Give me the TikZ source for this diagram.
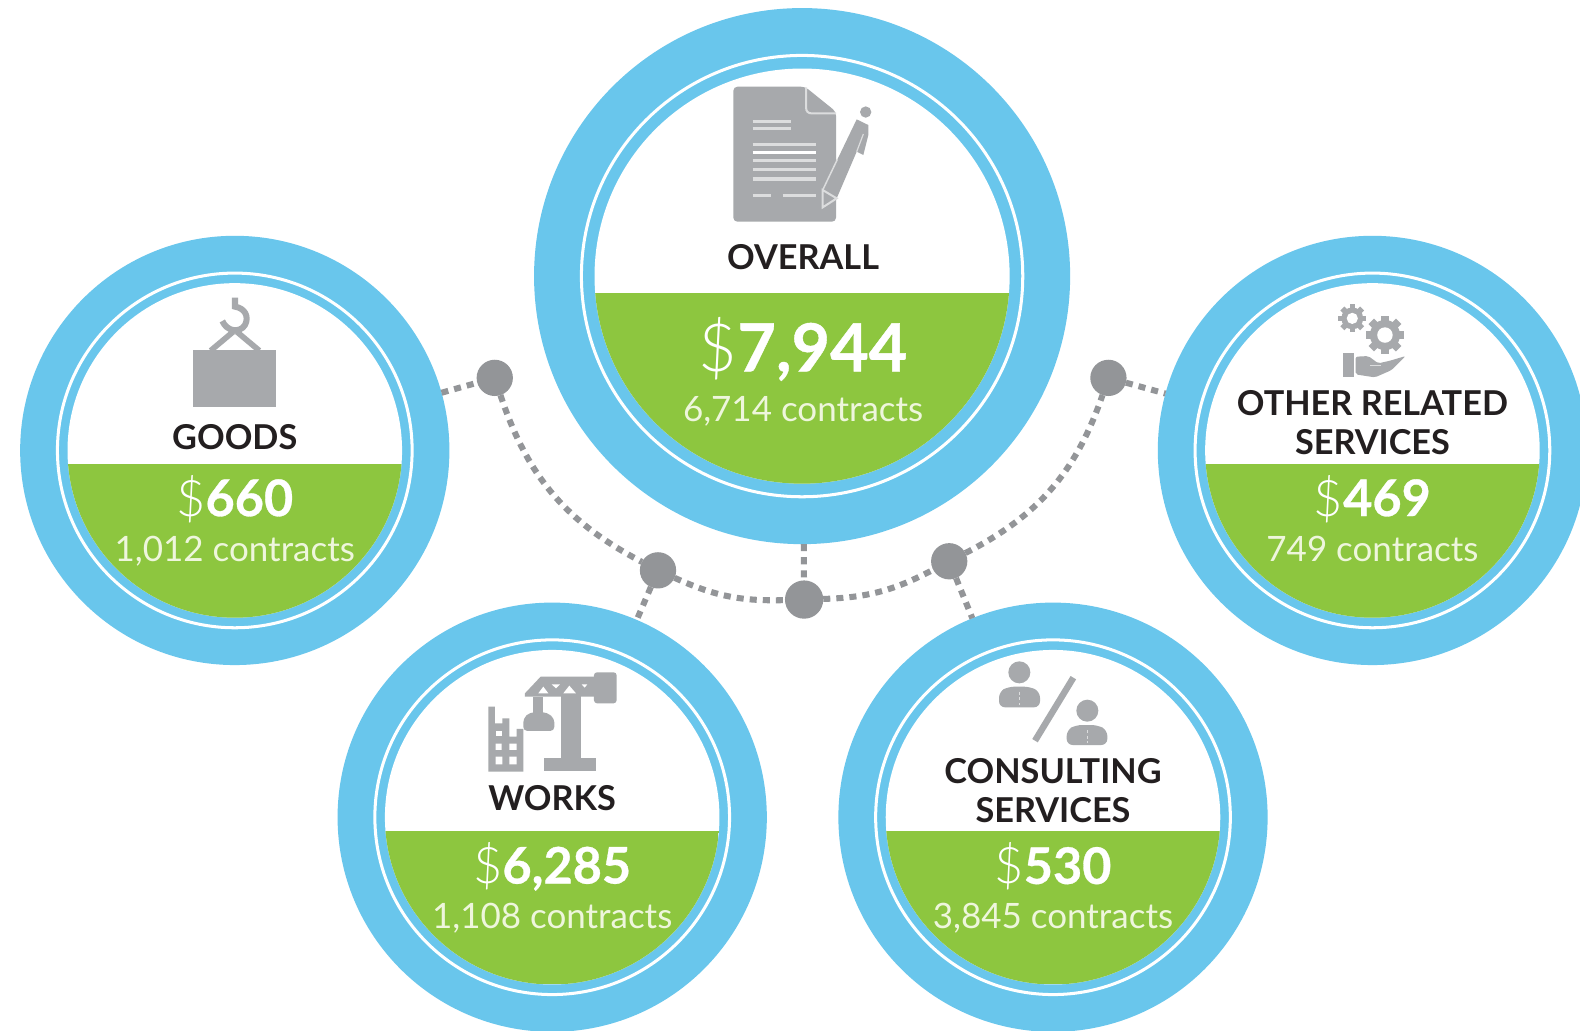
\documentclass[tikz,border=0pt]{standalone}
\usepackage{fontspec}
\setmainfont{Lato}
\newfontfamily\thinfont{Lato Light}
\definecolor{ringblue}{HTML}{69C6EC}
\definecolor{leaf}{HTML}{8DC63F}
\definecolor{dotgrey}{HTML}{939598}
\definecolor{icongrey}{HTML}{A7A9AC}
\definecolor{iconline}{HTML}{DCDDDE}
\definecolor{inkdark}{HTML}{231F20}
\definecolor{softwhite}{HTML}{EEF6DC}
\tikzset{
  outerdisc/.style={circle,fill=ringblue,inner sep=0pt,outer sep=0pt},
  junction/.style={circle,fill=dotgrey,inner sep=0pt,outer sep=0pt,minimum size=36pt},
  link/.style={draw=dotgrey,line width=6pt,dash pattern=on 7pt off 6pt},
  title/.style={text=inkdark,font=\bfseries\fontsize{34}{39}\selectfont,align=center,inner sep=0pt},
  amountbig/.style={text=white,font=\fontsize{66}{70}\selectfont,inner sep=0pt},
  amount/.style={text=white,font=\fontsize{50}{54}\selectfont,inner sep=0pt},
  count/.style={text=softwhite,font=\fontsize{34.7}{38}\selectfont,inner sep=0pt},
  iconfill/.style={fill=icongrey,draw=none},
  iconwhite/.style={fill=white,draw=none},
}
\newcommand{\ringdisc}[7]{%
  \node[outerdisc,minimum size=#4*2pt] (#1) at (#2,#3) {};
  \draw[white,line width=3pt] (#2,#3) circle (#5pt);
  \fill[white] (#2,#3) circle (#6pt);
  \begin{scope}
    \clip (#2,#3) circle (#6pt);
    \fill[leaf] (#2-#6,#7) rectangle (#2+#6,#3+#6);
  \end{scope}
}
\newcommand{\amt}[1]{{\thinfont\$}{\bfseries\addfontfeature{FakeBold=0.6}#1}}
\newcommand{\cog}[3]{%
  \foreach \a in {0,45,...,315}{
    \fill[icongrey,rotate around={\a:(#1,#2)}] (#1-#3*.2,#2) rectangle (#1+#3*.2,#2-#3);
  }
  \fill[icongrey] (#1,#2) circle (#3*.78pt);
  \fill[white] (#1,#2) circle (#3*.40pt);
}
\begin{document}
\begin{tikzpicture}[x=1pt,y=-1pt]
\useasboundingbox (0,0) rectangle (1568,1023);
\fill[white] (0,0) rectangle (1568,1023);

\ringdisc{overall}{796}{274}{266}{219}{206}{291}
\ringdisc{goods}{233}{447}{213}{176}{166}{460}
\ringdisc{other}{1362}{447}{213}{176}{166}{460}
\ringdisc{works}{548}{811}{213}{176}{166}{825}
\ringdisc{consulting}{1045}{811}{213}{176}{166}{825}

\node[junction] (d1) at (491,375) {};
\node[junction] (d2) at (653,566) {};
\node[junction,minimum size=38pt] (d3) at (798,595) {};
\node[junction] (d4) at (942,557) {};
\node[junction] (d5) at (1100,375) {};

\path[link] (goods) -- (d1);
\path[link] (d1) to[bend right=22] (d2);
\path[link] (d2) to[bend right=13] (d3);
\path[link] (d3) to[bend right=13] (d4);
\path[link] (d4) to[bend right=22] (d5);
\path[link] (d5) -- (other);
\path[link] (d2) -- (works);
\path[link] (overall) -- (d3);
\path[link] (d4) -- (consulting);

\node[title] (t1) at (797,255.5) {OVERALL};
\node[amountbig] (a1) at (797,346.5) {\amt{7,944}};
\node[count] (c1) at (797,408) {6,714 contracts};
\node[title] (t2) at (233,433.5) {GOODS};
\node[amount] (a2) at (233,495) {\amt{660}};
\node[count] (c2) at (233,547.5) {1,012 contracts};
\node[title] (t3) at (1362,419.5) {OTHER RELATED\\[0pt]SERVICES};
\node[amount] (a3) at (1362,495) {\amt{469}};
\node[count] (c3) at (1362,544.5) {749 contracts};
\node[title] (t4) at (548,792.5) {WORKS};
\node[amount] (a4) at (548,860) {\amt{6,285}};
\node[count] (c4) at (548,911.5) {1,108 contracts};
\node[title] (t5) at (1045,784.5) {CONSULTING\\[0pt]SERVICES};
\node[amount] (a5) at (1045,860) {\amt{530}};
\node[count] (c5) at (1045,911.5) {3,845 contracts};

% document and pen
\begin{scope}[shift={(694.7,69.5)},scale=.3308]
  \fill[icongrey,rounded corners=4pt] (100,50) -- (315,50) -- (408,125) -- (408,455) -- (100,455) -- cycle;
  \fill[white] (335,50) -- (420,50) -- (420,122) -- cycle;
  \draw[iconline,line width=2pt] (318,52) -- (318,112) .. controls (318,125) and (325,130) .. (335,130) -- (408,130);
  \foreach \yy in {154,175,222,272,298}{\draw[iconline,line width=3pt] (158,\yy) -- (\ifnum\yy<200 272\else 348\fi,\yy);}
  \draw[white,line width=2.6pt] (158,247) -- (348,247);
  \draw[iconline,line width=4.4pt] (158,327) -- (348,327);
  \draw[iconline,line width=3pt] (158,375) -- (212,375) (248,375) -- (348,375);
  \fill[iconfill] (368,360) -- (470,148) -- (505,165) -- (505,195) -- (490,255) -- (470,245) -- (410,385) -- cycle;
  \draw[iconline,line width=1.5pt] (368,360) -- (412,268);
  \draw[iconline,line width=1.2pt] (490,192) -- (470,245);
  \draw[iconline,line width=2pt] (368,360) -- (368,412) -- (410,385) -- cycle;
  \fill[iconfill] (497,126) circle (17pt);
\end{scope}

% hook and crate
\begin{scope}[shift={(168.7,282.8)},scale=.3308]
  \fill[iconfill] (70,195) rectangle (318,365);
  \draw[icongrey,line width=6pt] (195,38) -- (195,65) .. controls (225,70) and (238,95) .. (225,120) .. controls (210,145) and (170,140) .. (157,108);
  \draw[icongrey,line width=5.6pt] (122,197) -- (190,140) (200,140) -- (268,197);
\end{scope}

% crane and building
\begin{scope}[shift={(466.4,650)},scale=.3308]
  \fill[iconfill] (222,310) rectangle (378,348);
  \fill[iconfill] (272,120) rectangle (332,312);
  \fill[iconfill] (165,125) -- (165,115) -- (212,65) -- (375,65) -- (375,125) -- cycle;
  \fill[icongrey,rounded corners=3pt] (372,52) rectangle (440,145);
  \fill[iconwhite] (205,115) -- (220,95) -- (235,115) -- cycle;
  \fill[iconwhite] (245,88) -- (270,88) -- (258,100) -- cycle;
  \fill[iconwhite] (280,115) -- (298,92) -- (318,115) -- cycle;
  \fill[iconwhite] (335,88) -- (352,88) -- (344,98) -- cycle;
  \fill[iconfill] (190,125) -- (218,125) -- (218,180) -- (190,180) -- cycle;
  \fill[icongrey,rounded corners=4pt] (160,190) -- (180,172) -- (230,172) -- (253,190) -- (253,228) -- (160,228) -- cycle;
  \fill[iconfill] (55,155) -- (75,155) -- (75,205) -- (97,205) -- (97,190) -- (118,190) -- (118,245) -- (140,245) -- (140,222) -- (160,222) -- (160,350) -- (55,350) -- cycle;
  \fill[iconwhite] (77,227) rectangle (95,242);
  \fill[iconwhite] (77,266) rectangle (95,285) (118,266) rectangle (140,285);
  \fill[iconwhite] (77,305) rectangle (97,328) (118,305) rectangle (140,328);
\end{scope}

% two consultants
\begin{scope}[shift={(967.6,640.1)},scale=.3308]
  \fill[iconfill] (133,82) circle (33pt);
  \fill[icongrey,rounded corners=6pt] (72,187) -- (72,140) -- (100,125) -- (165,125) -- (195,140) -- (195,187) -- cycle;
  \draw[iconline,line width=1.2pt,dash pattern=on 3pt off 2.5pt] (133,140) -- (133,180);
  \draw[icongrey,line width=6.4pt] (295,98) -- (180,287);
  \fill[iconfill] (337,197) circle (33pt);
  \fill[icongrey,rounded corners=6pt] (275,300) -- (275,255) -- (303,240) -- (367,240) -- (397,255) -- (397,300) -- cycle;
  \draw[iconline,line width=1.2pt,dash pattern=on 3pt off 2.5pt] (337,255) -- (337,295);
\end{scope}

% gears and hand
\begin{scope}[shift={(1300,292.8)},scale=.3308]
  \cog{127}{70}{42}
  \cog{225}{120}{58}
  \fill[iconfill] (100,175) rectangle (133,245);
  \fill[icongrey,rounded corners=2pt] (137,185) -- (175,183) -- (205,205) -- (240,197) -- (287,183) -- (245,225) -- (195,247) -- (137,238) -- cycle;
  \draw[iconline,line width=1pt] (180,212) -- (212,212);
\end{scope}
\end{tikzpicture}
\end{document}
